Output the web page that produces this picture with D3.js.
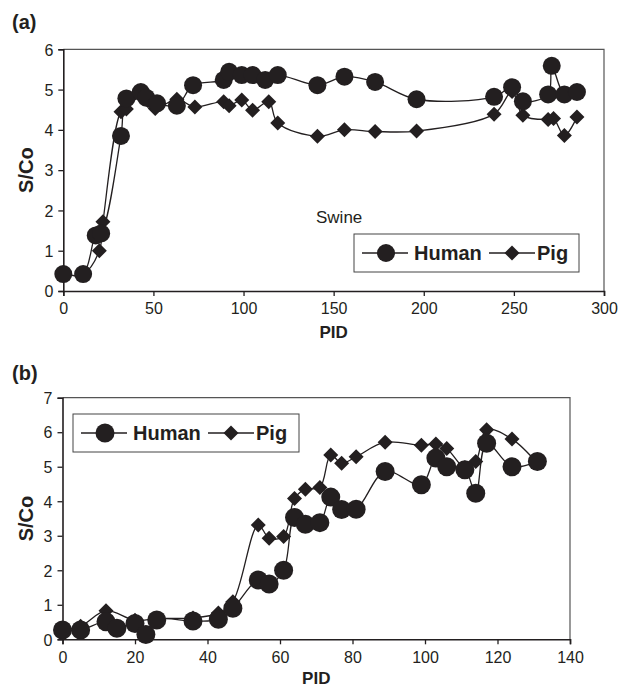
<!DOCTYPE html>
<html><head><meta charset="utf-8">
<script src="https://cdn.jsdelivr.net/npm/d3@7"></script>
<style>
body{margin:0;background:#fff;}
svg{display:block;font-family:"Liberation Sans",Arial,sans-serif;}
</style></head>
<body><svg id="c" width="622" height="686"></svg>
<script>
// ---- Panel (a) data ----
const aHumanX = [0, 11, 18, 21, 32, 35, 43, 46, 52, 63, 72, 89, 92, 99, 105, 112, 119, 141, 156, 173, 196, 239, 249, 255, 269, 271, 278, 285];
const aHumanY = [0.42, 0.42, 1.38, 1.43, 3.85, 4.78, 4.94, 4.8, 4.66, 4.6, 5.11, 5.24, 5.44, 5.36, 5.36, 5.24, 5.36, 5.11, 5.32, 5.19, 4.76, 4.82, 5.06, 4.71, 4.88, 5.59, 4.88, 4.94];
const aPigX = [0, 11, 20, 22, 32, 35, 43, 47, 51, 63, 73, 89, 92, 99, 105, 114, 119, 141, 156, 173, 196, 239, 249, 255, 269, 272, 278, 285];
const aPigY = [0.42, 0.42, 1.0, 1.72, 4.45, 4.52, 4.85, 4.72, 4.53, 4.76, 4.57, 4.7, 4.6, 4.74, 4.49, 4.7, 4.17, 3.84, 4.0, 3.96, 3.97, 4.39, 4.95, 4.36, 4.26, 4.28, 3.86, 4.32];
const aXTicks = [0, 50, 100, 150, 200, 250, 300];
const aYTicks = [0, 1, 2, 3, 4, 5, 6];

// ---- Panel (b) data ----
const bHumanX = [0, 5, 12, 15, 20, 23, 26, 36, 43, 47, 54, 57, 61, 64, 67, 71, 74, 77, 81, 89, 99, 103, 106, 111, 114, 117, 124, 131];
const bHumanY = [0.27, 0.27, 0.51, 0.32, 0.46, 0.14, 0.56, 0.53, 0.58, 0.9, 1.72, 1.6, 2.0, 3.53, 3.33, 3.38, 4.12, 3.76, 3.77, 4.86, 4.48, 5.25, 5.0, 4.91, 4.23, 5.68, 5.0, 5.15];
const bPigX = [0, 5, 12, 20, 26, 36, 43, 47, 54, 57, 61, 64, 67, 71, 74, 77, 81, 89, 99, 103, 106, 111, 114, 117, 124, 131];
const bPigY = [0.28, 0.38, 0.83, 0.55, 0.6, 0.62, 0.76, 1.09, 3.31, 2.93, 2.98, 4.08, 4.35, 4.4, 5.34, 5.1, 5.29, 5.71, 5.62, 5.66, 5.53, 4.97, 5.15, 6.07, 5.8, 5.1];
const bXTicks = [0, 20, 40, 60, 80, 100, 120, 140];
const bYTicks = [0, 1, 2, 3, 4, 5, 6, 7];

const INK = "#231f20";
const svg = d3.select("#c");

function panel(cfg) {
  const g = svg.append("g");
  const x = d3.scaleLinear().domain([cfg.xTicks[0], cfg.xTicks[cfg.xTicks.length-1]]).range([cfg.left, cfg.right]);
  const y = d3.scaleLinear().domain([cfg.yTicks[0], cfg.yTicks[cfg.yTicks.length-1]]).range([cfg.bottom, cfg.top]);

  // frame (top/right)
  g.append("path")
    .attr("d", `M${cfg.left},${cfg.top}H${cfg.right}V${cfg.bottom}`)
    .attr("fill","none").attr("stroke","#555").attr("stroke-width",1.2);

  const xAxis = g.append("g").attr("transform",`translate(0,${cfg.bottom})`)
    .call(d3.axisBottom(x).tickValues(cfg.xTicks).tickSize(5).tickPadding(4).tickFormat(d3.format("d")));
  const yAxis = g.append("g").attr("transform",`translate(${cfg.left},0)`)
    .call(d3.axisLeft(y).tickValues(cfg.yTicks).tickSize(5).tickPadding(5).tickFormat(d3.format("d")));
  [xAxis,yAxis].forEach(a=>{
    a.select(".domain").attr("stroke",INK).attr("stroke-width",1.6);
    a.selectAll(".tick line").attr("stroke",INK).attr("stroke-width",1.3);
    a.selectAll("text").attr("fill",INK).style("font-size","16px").style("font-family",'"Liberation Sans",Arial,sans-serif');
  });
  xAxis.selectAll("text").attr("dy","0.9em");
  yAxis.selectAll("text").attr("dy","0.36em");

  const line = d3.line().x(d=>x(d[0])).y(d=>y(d[1])).curve(d3.curveCatmullRom.alpha(0.5));
  const hum = cfg.hx.map((v,i)=>[v,cfg.hy[i]]);
  const pig = cfg.px.map((v,i)=>[v,cfg.py[i]]);

  g.append("path").attr("d",line(pig)).attr("fill","none").attr("stroke",INK).attr("stroke-width",1.3);
  g.append("path").attr("d",line(hum)).attr("fill","none").attr("stroke",INK).attr("stroke-width",1.3);

  const dsz = cfg.dia;
  g.selectAll(".pig").data(pig).enter().append("path")
    .attr("d",`M0,${-dsz}L${dsz},0L0,${dsz}L${-dsz},0Z`)
    .attr("transform",d=>`translate(${x(d[0])},${y(d[1])})`).attr("fill",INK);
  g.selectAll(".hum").data(hum).enter().append("circle")
    .attr("cx",d=>x(d[0])).attr("cy",d=>y(d[1])).attr("r",cfg.rad).attr("fill",INK);

  // titles
  g.append("text").attr("x",cfg.labelX).attr("y",cfg.labelY).text(cfg.label)
    .attr("fill",INK).style("font-size","20px").style("font-weight","bold");
  g.append("text").attr("transform",`translate(33,${(cfg.top+cfg.bottom)/2}) rotate(-90)`)
    .attr("text-anchor","middle").text("S/Co").attr("fill",INK).style("font-size","20px").style("font-weight","bold");
  g.append("text").attr("x",(cfg.left+cfg.right)/2).attr("y",cfg.pidY).attr("text-anchor","middle")
    .text("PID").attr("fill",INK).style("font-size","17px").style("font-weight","bold");

  // legend
  const L = cfg.leg;
  const lg = g.append("g");
  lg.append("rect").attr("x",L.x).attr("y",L.y).attr("width",L.w).attr("height",L.h)
    .attr("fill","#fff").attr("stroke","#444").attr("stroke-width",1);
  const cy = L.y + L.h/2;
  lg.append("line").attr("x1",L.x+8).attr("x2",L.x+54).attr("y1",cy).attr("y2",cy).attr("stroke",INK).attr("stroke-width",1.3);
  lg.append("circle").attr("cx",L.x+32).attr("cy",cy).attr("r",cfg.rad).attr("fill",INK);
  lg.append("text").attr("x",L.x+60).attr("y",cy+7).text("Human").attr("fill",INK).style("font-size","20px").style("font-weight","bold");
  lg.append("line").attr("x1",L.x+135).attr("x2",L.x+181).attr("y1",cy).attr("y2",cy).attr("stroke",INK).attr("stroke-width",1.3);
  lg.append("path").attr("d",`M0,${-dsz}L${dsz},0L0,${dsz}L${-dsz},0Z`).attr("transform",`translate(${L.x+158},${cy})`).attr("fill",INK);
  lg.append("text").attr("x",L.x+183).attr("y",cy+7).text("Pig").attr("fill",INK).style("font-size","20px").style("font-weight","bold");
  return {g,x,y};
}

const A = panel({left:63.3,right:604,top:49.3,bottom:291,xTicks:aXTicks,yTicks:aYTicks,
  hx:aHumanX,hy:aHumanY,px:aPigX,py:aPigY,rad:9,dia:7.5,label:"(a)",labelX:12,labelY:29,pidY:338,
  leg:{x:354,y:234,w:225,h:38}});
A.g.append("text").attr("x",316).attr("y",223).text("Swine").attr("fill",INK).style("font-size","17px");

panel({left:62.5,right:570,top:397.7,bottom:639.3,xTicks:bXTicks,yTicks:bYTicks,
  hx:bHumanX,hy:bHumanY,px:bPigX,py:bPigY,rad:9.5,dia:7.5,label:"(b)",labelX:12,labelY:380,pidY:684,
  leg:{x:73,y:414,w:226,h:38}});
</script></body></html>
